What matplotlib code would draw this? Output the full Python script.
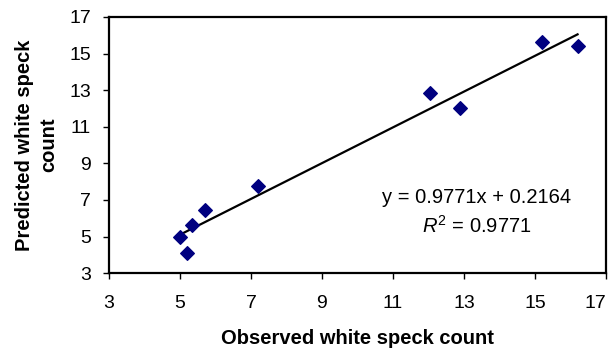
import numpy as np
import matplotlib
matplotlib.use("Agg")
import matplotlib.pyplot as plt

plt.rcParams['font.family'] = ['Liberation Sans', 'DejaVu Sans']
plt.rcParams['mathtext.fontset'] = 'custom'
plt.rcParams['mathtext.rm'] = 'Liberation Sans'
plt.rcParams['mathtext.it'] = 'Liberation Sans:italic'

# observed vs predicted white speck counts
observed = [5.0, 5.2, 5.35, 5.7, 7.2, 12.05, 12.9, 15.2, 16.2]
predicted = [5.0, 4.1, 5.65, 6.45, 7.75, 12.85, 12.05, 15.65, 15.4]

slope = 0.9771
intercept = 0.2164
r2 = 0.9771

ticks = [3, 5, 7, 9, 11, 13, 15, 17]

fig = plt.figure(figsize=(6.09, 3.52), dpi=100)
ax = fig.add_axes([0.179, 0.224, 0.816, 0.728])

ax.scatter(observed, predicted, marker='D', s=48, color='#000080', zorder=3)

xl = np.array([min(observed), max(observed)])
ax.plot(xl, slope * xl + intercept, color='black', lw=1.6, zorder=2)

ax.text(13.35, 7.15, "y = %.4fx + %.4f" % (slope, intercept),
        ha='center', va='center', fontsize=14.5)
ax.text(13.35, 5.6, "$R^2$ = %.4f" % r2,
        ha='center', va='center', fontsize=14.5)

ax.set_xlim(3, 17)
ax.set_ylim(3, 17)
ax.set_xticks(ticks)
ax.set_yticks(ticks)
ax.tick_params(labelsize=14, length=4, width=1, direction='out')
ax.tick_params(axis='x', pad=12)
ax.tick_params(axis='y', pad=9)
# last x label is pulled inside the figure edge
ax.get_xticklabels()[-1].set_horizontalalignment('right')
for s in ax.spines.values():
    s.set_linewidth(1.6)

ax.set_xlabel("Observed white speck count", fontsize=14.5, fontweight='bold', labelpad=12)
ax.set_ylabel("Predicted white speck\ncount", fontsize=14.5, fontweight='bold', labelpad=8,
              linespacing=1.35)

fig.savefig("out.png", dpi=100)
